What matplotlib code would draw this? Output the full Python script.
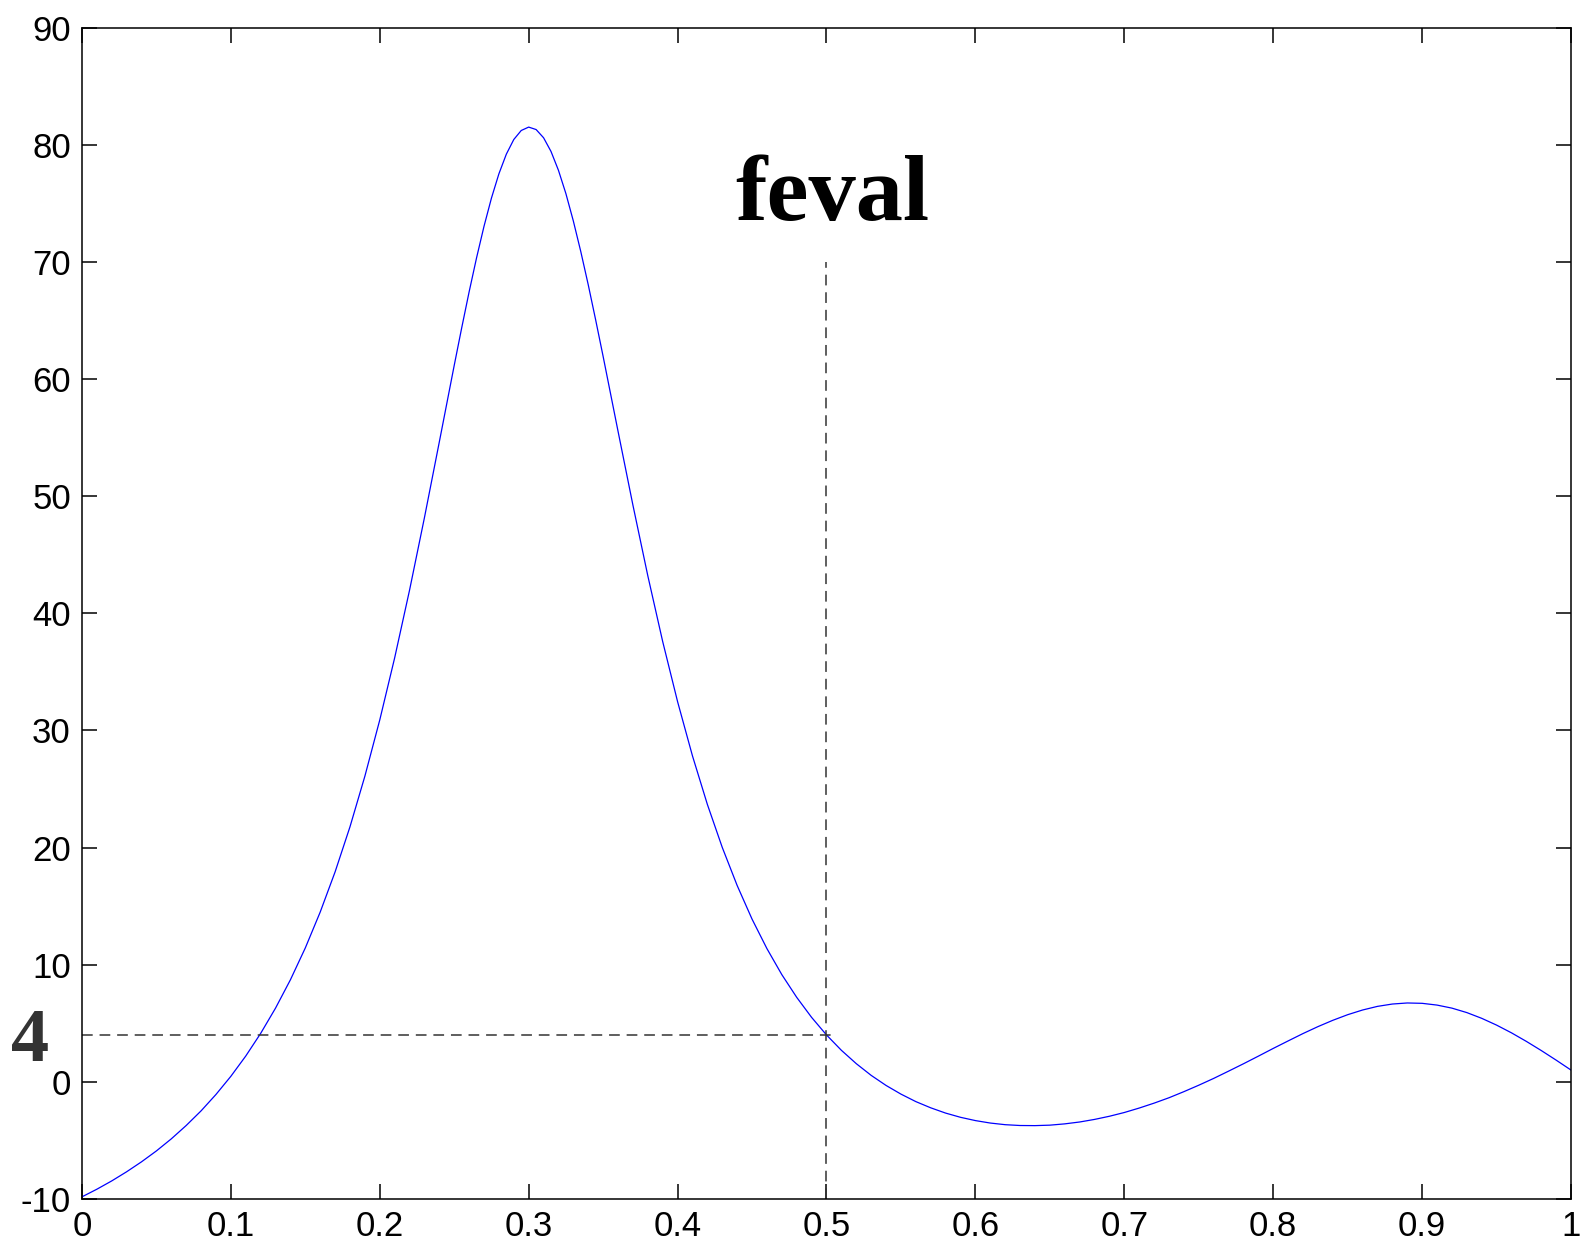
import matplotlib.pyplot as plt

x = [0.00, 0.01, 0.02, 0.03, 0.04, 0.05, 0.06, 0.07, 0.08, 0.09,
     0.10, 0.11, 0.12, 0.13, 0.14, 0.15, 0.16, 0.17, 0.18, 0.19,
     0.20, 0.21, 0.22, 0.23, 0.24, 0.25, 0.255, 0.26, 0.265, 0.27, 0.275,
     0.28, 0.285, 0.29, 0.295, 0.30, 0.305, 0.31, 0.315, 0.32, 0.325,
     0.33, 0.335, 0.34, 0.345, 0.35, 0.36, 0.37, 0.38, 0.39,
     0.40, 0.41, 0.42, 0.43, 0.44, 0.45, 0.46, 0.47, 0.48, 0.49,
     0.50, 0.51, 0.52, 0.53, 0.54, 0.55, 0.56, 0.57, 0.58, 0.59,
     0.60, 0.61, 0.62, 0.63, 0.64, 0.65, 0.66, 0.67, 0.68, 0.69,
     0.70, 0.71, 0.72, 0.73, 0.74, 0.75, 0.76, 0.77, 0.78, 0.79,
     0.80, 0.81, 0.82, 0.83, 0.84, 0.85, 0.86, 0.87, 0.88, 0.89,
     0.90, 0.91, 0.92, 0.93, 0.94, 0.95, 0.96, 0.97, 0.98, 0.99,
     1.00]
y = [-9.82, -9.17, -8.46, -7.68, -6.83, -5.90, -4.87, -3.73, -2.48, -1.08,
     0.47, 2.20, 4.13, 6.29, 8.71, 11.43, 14.49, 17.92, 21.77, 26.09,
     30.89, 36.19, 41.97, 48.16, 54.63, 61.16, 64.35, 67.43, 70.34, 73.03, 75.44,
     77.51, 79.19, 80.44, 81.21, 81.50, 81.29, 80.59, 79.42, 77.81, 75.82,
     73.48, 70.87, 68.04, 65.03, 61.92, 55.54, 49.23, 43.20, 37.58,
     32.45, 27.82, 23.68, 20.01, 16.76, 13.89, 11.37, 9.15, 7.21, 5.50,
     4.00, 2.69, 1.55, 0.55, -0.31, -1.05, -1.69, -2.22, -2.67, -3.03,
     -3.31, -3.52, -3.66, -3.73, -3.74, -3.70, -3.59, -3.43, -3.21, -2.94,
     -2.62, -2.24, -1.82, -1.36, -0.84, -0.29, 0.29, 0.91, 1.54, 2.19,
     2.85, 3.49, 4.12, 4.71, 5.25, 5.73, 6.13, 6.44, 6.64, 6.73,
     6.70, 6.55, 6.29, 5.91, 5.42, 4.84, 4.18, 3.45, 2.67, 1.85,
     1.00]

# evaluation point marked with dashed guides
x_eval = 0.5
y_eval = 4
guide_top = 70

xticks = [0, 0.1, 0.2, 0.3, 0.4, 0.5, 0.6, 0.7, 0.8, 0.9, 1]
xtick_labels = ["0", "0.1", "0.2", "0.3", "0.4", "0.5", "0.6", "0.7", "0.8", "0.9", "1"]
yticks = [-10, 0, 10, 20, 30, 40, 50, 60, 70, 80, 90]
ytick_labels = ["-10", "0", "10", "20", "30", "40", "50", "60", "70", "80", "90"]

fig = plt.figure(figsize=(15.85, 12.51), dpi=100)
ax = fig.add_axes([0.0517, 0.0416, 0.9395, 0.9364])

ax.plot(x, y, color=(0, 0, 1), linewidth=0.9)

guide = dict(color='#333333', linewidth=1.1, dashes=(7, 4.5))
ax.plot([0, x_eval + 0.005], [y_eval, y_eval], **guide)
ax.plot([x_eval, x_eval], [-10, guide_top], **guide)

ax.set_xlim(0, 1)
ax.set_ylim(-10, 90)
ax.set_xticks(xticks)
ax.set_xticklabels(xtick_labels)
ax.set_yticks(yticks)
ax.set_yticklabels(ytick_labels)

ax.tick_params(direction='in', length=11, width=1.1, top=True, right=True,
               labelsize=25, pad=8, colors='black')
for lab in ax.get_xticklabels() + ax.get_yticklabels():
    lab.set_family('Liberation Sans')
for sp in ax.spines.values():
    sp.set_linewidth(1.1)

ax.text(0.504, 73.6, "feval", family='Liberation Serif', weight='bold',
        fontsize=68, ha='center', va='baseline')
ax.text(-0.035, 1.8, "4", family='Liberation Serif', weight='bold',
        fontsize=55, color='#333333', ha='center', va='baseline')

fig.savefig("out.png", dpi=100)
